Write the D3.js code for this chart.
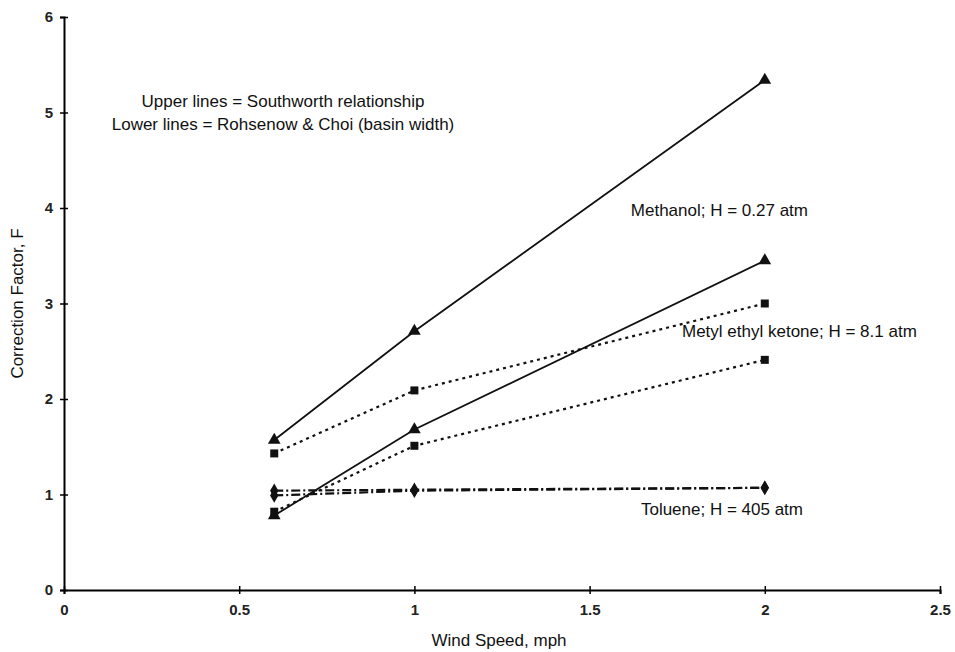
<!DOCTYPE html>
<html>
<head>
<meta charset="utf-8">
<style>
body { margin: 0; background: #fff; }
text { font-family: "Liberation Sans", Arial, sans-serif; }
</style>
</head>
<body></body>
<script src="https://d3js.org/d3.v7.min.js"></script>
<script>

// wind speeds (mph)
var speeds = [0.6, 1, 2];

// correction factor F, upper = Southworth, lower = Rohsenow & Choi
var methanolUpper = [1.57, 2.71, 5.34];
var methanolLower = [0.78, 1.68, 3.45];
var mekUpper = [1.43, 2.09, 3.00];
var mekLower = [0.82, 1.51, 2.41];
var tolueneUpper = [1.04, 1.05, 1.07];
var tolueneLower = [0.99, 1.04, 1.07];

var xTicks = [0, 0.5, 1, 1.5, 2, 2.5];
var yTicks = [0, 1, 2, 3, 4, 5, 6];

var series = [
	{ values: methanolUpper, marker: "triangle", style: "solid" },
	{ values: methanolLower, marker: "triangle", style: "solid" },
	{ values: mekUpper, marker: "square", style: "dot" },
	{ values: mekLower, marker: "square", style: "dot" },
	{ values: tolueneUpper, marker: "diamond", style: "dashdot" },
	{ values: tolueneLower, marker: "diamond", style: "dashdot" }
];

var width = 955, height = 652;
var margin = { top: 17, right: 15, bottom: 62, left: 64 };

var x = d3.scaleLinear().domain([0, 2.5]).range([margin.left, width - margin.right]);
var y = d3.scaleLinear().domain([0, 6]).range([height - margin.bottom, margin.top]);

var svg = d3.select("body").append("svg")
	.attr("width", width)
	.attr("height", height);

// axes
var xAxis = svg.append("g")
	.attr("transform", "translate(0," + y(0) + ")")
	.call(d3.axisBottom(x).tickValues(xTicks).tickSize(4).tickPadding(10).tickFormat(d3.format("")));
xAxis.select(".domain").attr("stroke-width", 2);
xAxis.selectAll(".tick line").attr("y1", -4).attr("stroke-width", 1.5);
xAxis.selectAll("text").attr("font-size", 15).attr("font-weight", "bold").attr("fill", "#222");

var yAxis = svg.append("g")
	.attr("transform", "translate(" + x(0) + ",0)")
	.call(d3.axisLeft(y).tickValues(yTicks).tickSize(4).tickPadding(7).tickFormat(d3.format("d")));
yAxis.select(".domain").attr("stroke-width", 2);
yAxis.selectAll(".tick line").attr("x1", 4).attr("stroke-width", 1.5);
yAxis.selectAll("text").attr("font-size", 15).attr("font-weight", "bold").attr("fill", "#222");

// lines
var line = d3.line()
	.x((d, i) => x(speeds[i]))
	.y(d => y(d));

var dash = { solid: null, dot: "3,4", dashdot: "9,3,2,3" };

svg.append("g").selectAll("path")
	.data(series)
  .enter().append("path")
	.attr("d", d => line(d.values))
	.attr("fill", "none")
	.attr("stroke", "#111")
	.attr("stroke-width", d => d.style == "solid" ? 1.8 : 2.2)
	.attr("stroke-dasharray", d => dash[d.style]);

// markers
var symbols = { triangle: d3.symbolTriangle, square: d3.symbolSquare, diamond: d3.symbolDiamond };
var sizes = { triangle: 70, square: 64, diamond: 60 };

series.forEach(s => {
	svg.append("g").selectAll("path")
		.data(s.values)
	  .enter().append("path")
		.attr("transform", (d, i) => "translate(" + x(speeds[i]) + "," + y(d) + ")")
		.attr("d", d3.symbol().type(symbols[s.marker]).size(sizes[s.marker]))
		.attr("fill", "#111");
});

// annotations
var notes = [
	{ t: "Upper lines = Southworth relationship", x: 283, y: 107, a: "middle" },
	{ t: "Lower lines = Rohsenow & Choi (basin width)", x: 283, y: 130, a: "middle" },
	{ t: "Methanol; H = 0.27 atm", x: 808, y: 216, a: "end" },
	{ t: "Metyl ethyl ketone; H = 8.1 atm", x: 682, y: 337, a: "start" },
	{ t: "Toluene; H = 405 atm", x: 803, y: 515, a: "end" }
];

svg.append("g").selectAll("text")
	.data(notes)
  .enter().append("text")
	.attr("x", d => d.x)
	.attr("y", d => d.y)
	.attr("text-anchor", d => d.a)
	.attr("font-size", 17)
	.attr("fill", "#111")
	.text(d => d.t);

// axis titles
svg.append("text")
	.attr("x", 499)
	.attr("y", 646)
	.attr("text-anchor", "middle")
	.attr("font-size", 17)
	.attr("fill", "#111")
	.text("Wind Speed, mph");

svg.append("text")
	.attr("transform", "translate(23," + y(3) + ") rotate(-90)")
	.attr("text-anchor", "middle")
	.attr("font-size", 17)
	.attr("fill", "#111")
	.text("Correction Factor, F");

</script>
</html>
